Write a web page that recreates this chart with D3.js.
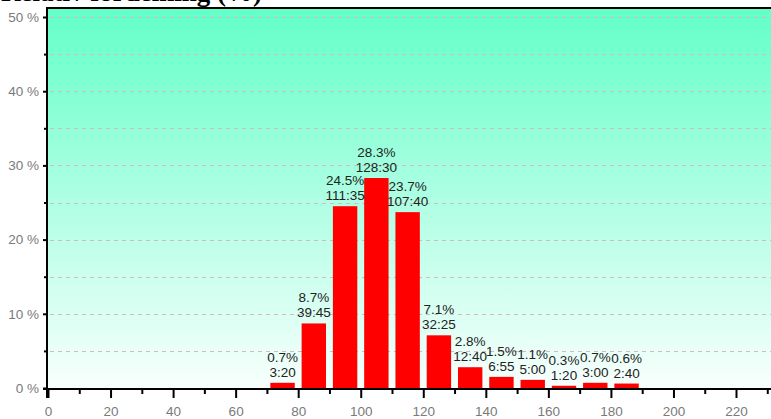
<!DOCTYPE html>
<html>
<head>
<meta charset="utf-8">
<script src="https://cdn.jsdelivr.net/npm/d3@7"></script>
<style>
  html, body { margin: 0; padding: 0; background: #fff; }
  svg { display: block; }
  .tick text { font-family: 'Liberation Sans', Arial, sans-serif; font-size: 13.5px; fill: #7a7a7a; }
</style>
</head>
<body>
<svg id="chart" width="771" height="419"></svg>
<script>
// Bin starts (width 10), share of total (%) and time per bin (mm:ss)
const binStarts = [70, 80, 90, 100, 110, 120, 130, 140, 150, 160, 170, 180];
const shares    = [0.7, 8.7, 24.5, 28.3, 23.7, 7.1, 2.8, 1.5, 1.1, 0.3, 0.7, 0.6];
const times     = ["3:20", "39:45", "111:35", "128:30", "107:40", "32:25", "12:40", "6:55", "5:00", "1:20", "3:00", "2:40"];
const xTickValues = [0, 20, 40, 60, 80, 100, 120, 140, 160, 180, 200, 220];
const yTickValues = [0, 10, 20, 30, 40, 50];
const title = "Relativ fördelning (%)";

(function () {
const svg = d3.select("#chart");
const W = 771;
const plotLeft = 48, plotBottom = 388, plotTop = 7;

const x = d3.scaleLinear().domain([0, 220]).range([plotLeft, 736]);
const y = d3.scaleLinear().domain([0, 50]).range([plotBottom, 17]);

// background gradient
const defs = svg.append("defs");
const grad = defs.append("linearGradient").attr("id", "bg")
  .attr("x1", 0).attr("y1", 0).attr("x2", 0).attr("y2", 1);
grad.append("stop").attr("offset", "0%").attr("stop-color", "#62ffc8");
grad.append("stop").attr("offset", "100%").attr("stop-color", "#f8fffd");

svg.append("rect")
  .attr("x", plotLeft).attr("y", plotTop)
  .attr("width", W - plotLeft).attr("height", plotBottom - plotTop)
  .attr("fill", "url(#bg)");

// dashed grid every 5 %
const gridVals = d3.range(5, 51, 5);
svg.append("g").selectAll("line").data(gridVals).join("line")
  .attr("x1", plotLeft + 2).attr("x2", W)
  .attr("y1", d => Math.round(y(d)) + 0.5).attr("y2", d => Math.round(y(d)) + 0.5)
  .attr("stroke", "#d4b8c2").attr("stroke-dasharray", "4,4");

// top border
svg.append("line").attr("x1", plotLeft).attr("x2", W)
  .attr("y1", plotTop + 1).attr("y2", plotTop + 1)
  .attr("stroke", "#000").attr("stroke-width", 2);

// bars
const barPad = 1.1;
svg.append("g").selectAll("rect").data(binStarts).join("rect")
  .attr("x", d => x(d + barPad))
  .attr("width", d => x(d + 10 - barPad) - x(d + barPad))
  .attr("y", (d, i) => y(shares[i]))
  .attr("height", (d, i) => plotBottom - y(shares[i]))
  .attr("fill", "#ff0000");

const labelFont = "'Liberation Sans', Arial, sans-serif";

// value labels: share on the first line, time on the second
const lab = svg.append("g")
  .attr("font-family", labelFont)
  .attr("font-size", 13.5).attr("fill", "#222").attr("text-anchor", "middle");
binStarts.forEach((d, i) => {
  const cx = x(d + 5);
  const ty = y(shares[i]);
  lab.append("text").attr("x", cx).attr("y", ty - 21).text(shares[i].toFixed(1) + "%");
  lab.append("text").attr("x", cx).attr("y", ty - 6).text(times[i]);
});

// x axis
const xAxisG = svg.append("g").attr("transform", `translate(0,${plotBottom + 1})`);
xAxisG.append("line").attr("x1", plotLeft - 5).attr("x2", W).attr("stroke", "#000").attr("stroke-width", 2);
xAxisG.append("g").call(d3.axisBottom(x).tickValues(d3.range(10, 231, 20)).tickSize(5).tickFormat(""))
  .call(g => g.select(".domain").remove())
  .call(g => g.selectAll("line").attr("stroke-width", 2));
xAxisG.append("g").call(d3.axisBottom(x).tickValues(xTickValues).tickSize(9).tickFormat(d3.format("d")))
  .call(g => g.select(".domain").remove())
  .call(g => g.selectAll("line").attr("stroke-width", 2))
  .call(g => g.selectAll("text").attr("dy", null).attr("y", 27));

// y axis
const yAxisG = svg.append("g").attr("transform", `translate(${plotLeft - 1},0)`);
yAxisG.append("line").attr("y1", plotTop).attr("y2", plotBottom + 10).attr("stroke", "#000").attr("stroke-width", 2);
yAxisG.append("g").call(d3.axisLeft(y).tickValues(d3.range(5, 50, 10)).tickSize(3).tickFormat(""))
  .call(g => g.select(".domain").remove())
  .call(g => g.selectAll("line").attr("stroke-width", 2));
yAxisG.append("g").call(d3.axisLeft(y).tickValues(yTickValues).tickSize(4).tickFormat(d => d + " %"))
  .call(g => g.select(".domain").remove())
  .call(g => g.selectAll("line").attr("stroke-width", 2))
  .call(g => g.selectAll("text").attr("x", -8));

// title, partly above the canvas edge
svg.append("text").attr("x", 1).attr("y", 1)
  .attr("font-family", "'Liberation Serif', 'Times New Roman', serif")
  .attr("font-weight", "bold").attr("font-size", 27).attr("fill", "#000")
  .text(title);
})();
</script>
</body>
</html>
